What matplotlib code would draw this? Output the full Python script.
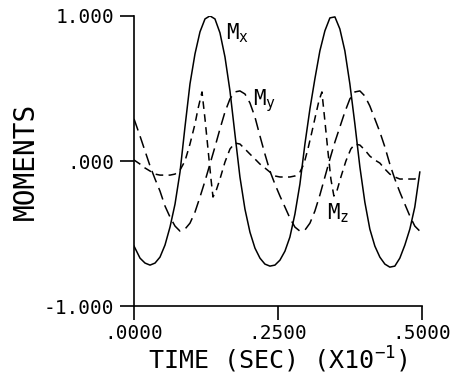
import matplotlib
matplotlib.use('Agg')
import matplotlib.pyplot as plt

plt.rcParams['font.family'] = ['DejaVu Sans Mono']
plt.rcParams['mathtext.fontset'] = 'custom'
plt.rcParams['mathtext.rm'] = 'DejaVu Sans Mono'
plt.rcParams['mathtext.it'] = 'DejaVu Sans Mono'
plt.rcParams['mathtext.default'] = 'regular'

# time (sec x10^-1) and moments
t_xy = [0.0, 0.0104, 0.0191, 0.0278, 0.0365, 0.0451, 0.0538, 0.0625, 0.0712, 0.0799,
        0.0885, 0.0972, 0.1059, 0.1146, 0.1233, 0.1319, 0.1406, 0.1493, 0.1580, 0.1667,
        0.1753, 0.1840, 0.1927, 0.2014, 0.2101, 0.2188, 0.2274, 0.2361, 0.2448, 0.2535,
        0.2622, 0.2708, 0.2795, 0.2882, 0.2969, 0.3056, 0.3142, 0.3229, 0.3316, 0.3403,
        0.3490, 0.3576, 0.3663, 0.3750, 0.3837, 0.3924, 0.4010, 0.4097, 0.4184, 0.4271,
        0.4358, 0.4444, 0.4531, 0.4618, 0.4705, 0.4792, 0.4878, 0.4965]

m_x = [-0.586, -0.669, -0.703, -0.717, -0.703, -0.662, -0.579, -0.455, -0.297, -0.076,
       0.234, 0.531, 0.738, 0.890, 0.979, 1.000, 0.979, 0.883, 0.717, 0.483,
       0.186, -0.110, -0.331, -0.490, -0.600, -0.669, -0.710, -0.724, -0.717, -0.683,
       -0.621, -0.524, -0.366, -0.159, 0.117, 0.359, 0.566, 0.759, 0.897, 0.986,
       0.993, 0.910, 0.759, 0.531, 0.255, -0.041, -0.283, -0.469, -0.586, -0.662,
       -0.710, -0.731, -0.724, -0.669, -0.579, -0.469, -0.317, -0.076]

m_y = [0.290, 0.172, 0.069, -0.034, -0.124, -0.207, -0.310, -0.386, -0.448, -0.483,
       -0.469, -0.428, -0.352, -0.248, -0.138, -0.021, 0.097, 0.221, 0.338, 0.428,
       0.476, 0.483, 0.462, 0.400, 0.303, 0.172, 0.048, -0.069, -0.159, -0.241,
       -0.317, -0.393, -0.455, -0.483, -0.476, -0.428, -0.345, -0.234, -0.110, 0.014,
       0.131, 0.234, 0.338, 0.428, 0.476, 0.483, 0.448, 0.379, 0.290, 0.200,
       0.097, -0.021, -0.124, -0.214, -0.297, -0.379, -0.448, -0.483]

t_z = [0.0, 0.0104, 0.0191, 0.0278, 0.0365, 0.0451, 0.0538, 0.0625, 0.0712, 0.0799,
       0.0885, 0.0972, 0.1059, 0.1111, 0.1181, 0.1233, 0.1285, 0.1337, 0.1372, 0.1424,
       0.1493, 0.1580, 0.1667, 0.1753, 0.1840, 0.1927, 0.2014, 0.2101, 0.2188, 0.2274,
       0.2361, 0.2448, 0.2535, 0.2622, 0.2708, 0.2795, 0.2882, 0.2951, 0.3021, 0.3090,
       0.3160, 0.3212, 0.3264, 0.3316, 0.3368, 0.3420, 0.3472, 0.3524, 0.3594, 0.3681,
       0.3767, 0.3837, 0.3924, 0.4010, 0.4097, 0.4184, 0.4271, 0.4358, 0.4444, 0.4531,
       0.4618, 0.4705, 0.4792, 0.4878, 0.4965]

m_z = [0.007, -0.021, -0.048, -0.069, -0.090, -0.097, -0.097, -0.097, -0.090, -0.062,
       0.0, 0.117, 0.255, 0.359, 0.476, 0.290, 0.083, -0.124, -0.248, -0.207,
       -0.124, -0.007, 0.083, 0.124, 0.117, 0.083, 0.048, 0.014, -0.021, -0.048,
       -0.076, -0.103, -0.110, -0.110, -0.110, -0.103, -0.076, -0.021, 0.083, 0.200,
       0.324, 0.414, 0.476, 0.276, 0.069, -0.124, -0.241, -0.207, -0.110, 0.0,
       0.083, 0.117, 0.110, 0.076, 0.034, 0.007, -0.014, -0.055, -0.090, -0.110,
       -0.124, -0.124, -0.124, -0.124, -0.103]

x_ticks = [0.0, 0.25, 0.5]
x_labels = ['.0000', '.2500', '.5000']
y_ticks = [-1.0, 0.0, 1.0]
y_labels = ['-1.000', '.000', '1.000']

fig = plt.figure(figsize=(4.59, 3.78), dpi=100)
ax = fig.add_axes([0.292, 0.190, 0.627, 0.768])

ax.plot(t_xy, m_x, color='black', lw=1.1)
ax.plot(t_xy, m_y, color='black', lw=1.1, dashes=(8, 4))
ax.plot(t_z, m_z, color='black', lw=1.1, dashes=(5, 3.5))

ax.text(0.160, 0.84, 'M$_x$', fontsize=15, ha='left', va='baseline')
ax.text(0.207, 0.38, 'M$_y$', fontsize=15, ha='left', va='baseline')
ax.text(0.335, -0.40, 'M$_z$', fontsize=15, ha='left', va='baseline')

ax.set_xlim(0, 0.5)
ax.set_ylim(-1, 1)
ax.set_xticks(x_ticks)
ax.set_xticklabels(x_labels)
ax.set_yticks(y_ticks)
ax.set_yticklabels(y_labels)
ax.tick_params(direction='out', length=10, width=1.2, labelsize=14)
ax.tick_params(axis='x', pad=3)
ax.tick_params(axis='y', pad=4)

for s in ['top', 'right']:
    ax.spines[s].set_visible(False)
for s in ['left', 'bottom']:
    ax.spines[s].set_linewidth(1.2)

ax.set_xlabel('TIME (SEC) (X10$^{-1}$)', fontsize=18, labelpad=1)
ax.set_ylabel('MOMENTS', fontsize=20, labelpad=3)

fig.savefig('out.png', dpi=100)
